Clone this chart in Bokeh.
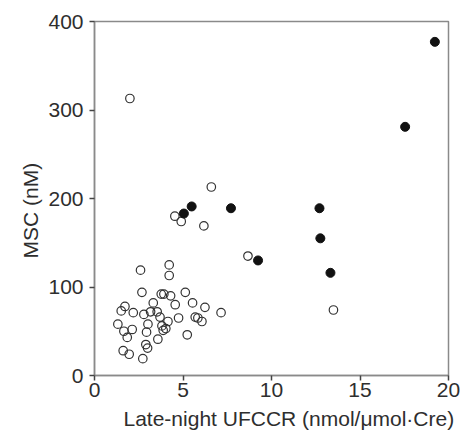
from bokeh.plotting import figure
from bokeh.models import Range1d, FixedTicker, Title
from bokeh.embed import file_html
from bokeh.resources import INLINE

# Filled (black) group
filled_x = [19.23, 17.55, 5.49, 5.05, 7.71, 12.71, 12.76, 9.24, 13.33]
filled_y = [377, 281, 191, 183, 189, 189, 155, 130, 116]

# Open group
open_x = [2.0, 6.6, 4.54, 4.9, 6.18, 8.67, 13.5,
          2.6, 4.22, 4.22, 2.68, 3.77, 3.92, 4.3, 5.13, 3.32, 4.56, 5.54, 6.24, 7.15,
          1.72, 1.51, 2.19, 2.79, 3.17, 3.54, 3.70, 4.75, 5.69, 5.84, 6.07,
          1.32, 3.02, 3.81, 4.15, 4.03, 3.88, 2.13, 1.66, 1.85, 2.94, 5.24, 3.58,
          2.9, 3.0, 1.62, 1.96, 2.73]
open_y = [313, 213, 180, 174, 169, 135, 74,
          119, 125, 113, 94, 92, 92, 90, 94, 82, 80, 82, 77, 71,
          78, 73, 71, 69, 72, 72, 66, 65, 66, 65, 61,
          58, 58, 56, 61, 53, 51, 52, 50, 43, 49, 46, 41,
          35, 31, 28, 24, 19]

x_ticks = [0, 5, 10, 15, 20]
y_ticks = [0, 100, 200, 300, 400]
x_label = "Late-night UFCCR (nmol/μmol·Cre)"
y_label = "MSC (nM)"

FONT = "Liberation Sans"
TXT = "#2e2e2e"
AX = "#8a8a8a"

p = figure(width=461, height=437, output_backend="svg", toolbar_location=None,
           x_range=Range1d(0, 20), y_range=Range1d(0, 400),
           min_border_left=94, min_border_top=21, min_border_right=13, min_border_bottom=62)

p.xgrid.visible = False
p.ygrid.visible = False
p.outline_line_color = AX
p.outline_line_width = 1.5

for ax in (p.xaxis[0], p.yaxis[0]):
    ax.axis_line_color = AX
    ax.axis_line_width = 1.5
    ax.major_tick_line_color = "#444444"
    ax.major_tick_line_width = 1.5
    ax.major_tick_out = 5
    ax.major_tick_in = 0
    ax.minor_tick_line_color = None
    ax.major_label_text_font = FONT
    ax.major_label_text_font_size = "21px"
    ax.major_label_text_color = TXT

p.xaxis.ticker = FixedTicker(ticks=x_ticks)
p.yaxis.ticker = FixedTicker(ticks=y_ticks)
p.xaxis.major_label_standoff = 2
p.yaxis.major_label_standoff = 6

xt = Title(text=x_label, align="left", offset=29, standoff=10,
           text_font=FONT, text_font_size="21px", text_font_style="normal",
           text_color=TXT)
yt = Title(text=y_label, align="left", offset=117, standoff=8,
           text_font=FONT, text_font_size="21px", text_font_style="normal",
           text_color=TXT)
p.add_layout(xt, "below")
p.add_layout(yt, "left")

p.scatter(open_x, open_y, size=8.5, marker="circle", fill_color=None,
          line_color="#333333", line_width=1.2)
p.scatter(filled_x, filled_y, size=9, marker="circle", fill_color="#111111",
          line_color="#111111", line_width=1)

open("out.html", "w").write(file_html(p, INLINE))
